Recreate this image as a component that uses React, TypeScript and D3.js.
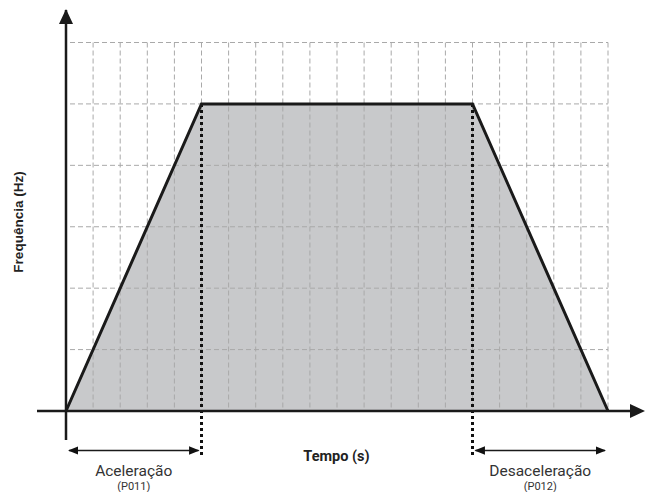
import React from 'react';
import { scaleLinear, line, range } from 'd3';

// trapezoid profile: time (grid units) vs frequency (grid units)
const profileTime = [0, 5, 15, 20];
const profileFreq = [0, 5, 5, 0];
const xGridTicks = range(1, 21);
const yGridTicks = range(1, 7);
const phaseLabels = ['Aceleração', 'Desaceleração'];
const phaseParams = ['(P011)', '(P012)'];
const phaseSpans = [[0, 5], [15, 20]];

const W = 646;
const H = 492;

export default function App() {
  const x = scaleLinear().domain([0, 20]).range([66, 608]);
  const y = scaleLinear().domain([0, 6]).range([411, 42.5]);

  const pts = profileTime.map((t, i) => [t, profileFreq[i]] as [number, number]);
  const lineFn = line<[number, number]>().x(d => x(d[0])).y(d => y(d[1]));
  const areaPath = lineFn(pts) + 'Z';

  const gridStyle = { stroke: '#a9a9a9', strokeWidth: 1, strokeDasharray: '5,3' };

  return (
    <svg width={W} height={H} style={{ position: 'absolute', left: 0, top: 0, background: '#fff' }}>
      <defs>
        <marker id="ah" viewBox="0 0 10 10" refX="9" refY="5" markerWidth="7" markerHeight="7" orient="auto-start-reverse">
          <path d="M0,1 L10,5 L0,9 Z" fill="#111" />
        </marker>
      </defs>

      <path d={areaPath} fill="#c8c9cb" />

      {xGridTicks.map(t => (
        <line key={'vx' + t} x1={x(t)} x2={x(t)} y1={y(6)} y2={y(0)} {...gridStyle} />
      ))}
      {yGridTicks.map(t => (
        <line key={'hy' + t} x1={70} x2={x(20)} y1={y(t)} y2={y(t)} {...gridStyle} />
      ))}

      {/* dotted markers at end of accel / start of decel */}
      {[5, 15].map(t => (
        <line key={'d' + t} x1={x(t)} x2={x(t)} y1={y(5)} y2={457} stroke="#111" strokeWidth={3} strokeDasharray="3,3" />
      ))}

      <path d={lineFn(pts) || ''} fill="none" stroke="#1a1a1a" strokeWidth={3} strokeLinejoin="miter" />

      {/* axes */}
      <line x1={66} x2={66} y1={440} y2={10} stroke="#1a1a1a" strokeWidth={2.5} />
      <path d="M59,24 L66,9 L73,24 Z" fill="#1a1a1a" />
      <line x1={37} x2={632} y1={411} y2={411} stroke="#1a1a1a" strokeWidth={2.5} />
      <path d="M630,404 L645,411 L630,418 Z" fill="#1a1a1a" />

      {/* phase spans */}
      {phaseSpans.map((s, i) => {
        const x1 = x(s[0]) + 3;
        const x2 = x(s[1]) - 3;
        const cx = (x(s[0]) + x(s[1])) / 2;
        return (
          <g key={'p' + i}>
            <line x1={x1} x2={x2} y1={450.5} y2={450.5} stroke="#1a1a1a" strokeWidth={1.5}
              markerStart="url(#ah)" markerEnd="url(#ah)" />
            <text x={cx} y={475.5} textAnchor="middle" fontFamily="Roboto" fontSize={15.5} fill="#333">{phaseLabels[i]}</text>
            <text x={cx} y={490} textAnchor="middle" fontFamily="Roboto" fontSize={11} fill="#333">{phaseParams[i]}</text>
          </g>
        );
      })}

      <text x={336.5} y={460.5} textAnchor="middle" fontFamily="Roboto" fontWeight="bold" fontSize={14.5} fill="#222">Tempo (s)</text>
      <text transform="translate(22.5,222) rotate(-90)" textAnchor="middle" fontFamily="Liberation Sans, Arial" fontWeight="bold" fontSize={13.5} fill="#222">Frequência (Hz)</text>
    </svg>
  );
}
